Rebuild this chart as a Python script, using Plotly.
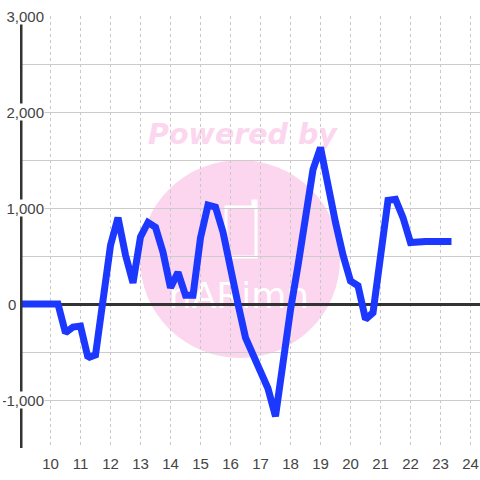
import plotly.graph_objects as go

hours = [9.0, 10.25, 10.5, 10.75, 11.0, 11.25, 11.5, 11.75, 12.0, 12.25, 12.5, 12.75,
         13.0, 13.25, 13.5, 13.75, 14.0, 14.25, 14.5, 14.75, 15.0, 15.25, 15.5, 15.75,
         16.0, 16.25, 16.5, 16.75, 17.0, 17.25, 17.5, 17.75, 18.0, 18.25, 18.5, 18.75,
         19.0, 19.25, 19.5, 19.75, 20.0, 20.25, 20.5, 20.75, 21.0, 21.25, 21.5, 21.75,
         22.0, 22.25, 22.5, 22.75, 23.0, 23.25]
values = [0, 0, -300, -240, -230, -560, -530, 50, 610, 900, 510, 220,
          700, 850, 800, 540, 170, 330, 90, 90, 690, 1030, 1010, 750,
          350, 0, -350, -520, -720, -880, -1170, -600, -60, 400, 900, 1400,
          1630, 1190, 850, 510, 240, 190, -160, -90, 560, 1080, 1090, 900,
          640, 650, 650, 650, 650, 650]

x_ticks = list(range(10, 25))
y_grid = [-1500, -1000, -500, 0, 500, 1000, 1500, 2000, 2500, 3000]
y_labels = {3000: "3,000", 2000: "2,000", 1000: "1,000", 0: "0", -1000: "-1,000"}

W = H = 480
L, R, T, B = 20, 0, 16, 32
def fx(v): return (v - L) / (W - L - R)
def fy(v): return 1 - (v - T) / (H - T - B)

PINK = "#fbd6ee"
shapes = [
    dict(type="circle", xref="paper", yref="paper", layer="below", line_width=0, fillcolor=PINK,
         x0=fx(140), x1=fx(340), y0=fy(358), y1=fy(160)),
    dict(type="path", xref="paper", yref="paper", layer="below",
         line=dict(color="white", width=3), fillcolor="rgba(0,0,0,0)",
         path=f"M {fx(226)} {fy(207)} L {fx(253)} {fy(207)} L {fx(253)} {fy(201)} L {fx(256)} {fy(201)} "
              f"L {fx(256)} {fy(257)} L {fx(226)} {fy(257)} Z"),
    dict(type="rect", xref="paper", yref="paper", layer="below", line_width=0,
         fillcolor="rgba(0,0,0,0)", x0=fx(130), x1=fx(355), y0=fy(152), y1=fy(112),
         label=dict(text="<b><i>Powered by</i></b>", textposition="middle center",
                    font=dict(family="DejaVu Sans", size=28.5, color=PINK))),
    dict(type="rect", xref="paper", yref="paper", layer="below", line_width=0,
         fillcolor="rgba(0,0,0,0)", x0=fx(164), x1=fx(314), y0=fy(314), y1=fy(270),
         label=dict(text="nARimn", textposition="middle center",
                    font=dict(family="DejaVu Sans", size=36, color="white"))),
    dict(type="line", xref="x", yref="y", x0=9, x1=9, y0=-1500, y1=3000,
         line=dict(color="#333333", width=4)),
]

annotations = []
for val, txt in y_labels.items():
    annotations.append(dict(
        xref="paper", yref="y", x=fx(16.5) if val == 0 else fx(45), y=val, text=txt,
        xanchor="right", yanchor="middle", showarrow=False, align="right",
        height=16, borderpad=0,
        width=None if val == 0 else 41, bgcolor=None if val == 0 else "#fefffe",
        font=dict(family="Liberation Sans", size=15, color="#444444"),
    ))

fig = go.Figure(go.Scatter(
    x=hours, y=values, mode="lines", cliponaxis=False,
    line=dict(color="#1c38ff", width=7), hoverinfo="skip",
))
fig.update_layout(
    width=W, height=H, margin=dict(l=L, r=R, t=T, b=B, pad=0), autosize=False,
    paper_bgcolor="#fefffe", plot_bgcolor="rgba(0,0,0,0)", showlegend=False,
    shapes=shapes, annotations=annotations,
    xaxis=dict(range=[9 - 0.5 / 30, 9 - 0.5 / 30 + 460 / 30], tickvals=x_ticks,
               ticktext=[str(t) for t in x_ticks], ticks="outside", ticklen=2,
               tickcolor="rgba(0,0,0,0)", showline=False, zeroline=False,
               gridcolor="#c8c8c8", griddash="3px,3px", gridwidth=1,
               tickfont=dict(family="Liberation Sans", size=15, color="#444444")),
    yaxis=dict(range=[-1500, 3000], tickvals=y_grid, showticklabels=False, ticks="",
               showline=False, gridcolor="#cccccc", gridwidth=1,
               zeroline=True, zerolinecolor="#333333", zerolinewidth=3),
)
post = (
    "document.body.style.margin='0';document.documentElement.style.overflow='hidden';"
    "document.querySelectorAll('.js-line').forEach(function(p){"
    "p.style.strokeLinejoin='miter';p.style.strokeLinecap='square';p.style.strokeMiterlimit='1.5';});"
)
fig.write_html("out.html", post_script=post, config=dict(displayModeBar=False))
